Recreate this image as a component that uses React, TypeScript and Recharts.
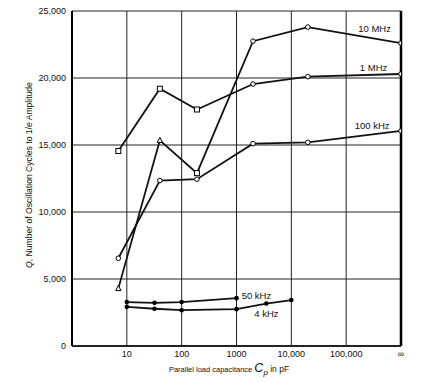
import {
  LineChart,
  Line,
  XAxis,
  YAxis,
  CartesianGrid,
  ReferenceLine,
  ReferenceDot,
} from 'recharts';

// capacitance (pF); the "∞" column is placed at 1e6 on the log axis
const xTicks = [10, 100, 1000, 10000, 100000, 1000000];
const xTickLabels = ['10', '100', '1000', '10,000', '100,000', '∞'];
const yTicks = [0, 5000, 10000, 15000, 20000, 25000];

const cap10MHz = [7, 40, 190, 2000, 20000, 1000000];
const q10MHz = [4300, 15350, 12900, 22750, 23800, 22600];

const cap1MHz = [7, 40, 190, 2000, 20000, 1000000];
const q1MHz = [14550, 19200, 17650, 19550, 20100, 20300];

const cap100kHz = [7, 40, 190, 2000, 20000, 1000000];
const q100kHz = [6550, 12350, 12450, 15100, 15200, 16050];

const cap50kHz = [10, 32, 100, 1000];
const q50kHz = [3280, 3220, 3280, 3570];

const cap4kHz = [10, 32, 100, 1000, 3500, 10000];
const q4kHz = [2920, 2780, 2670, 2750, 3170, 3430];

// marker shapes per point
const marks10MHz = ['tri', 'tri', 'sq', 'o', 'o', 'o'];
const marks1MHz = ['sq', 'sq', 'sq', 'o', 'o', 'o'];
const marks100kHz = ['o', 'o', 'o', 'o', 'o', 'o'];
const marksDot = ['dot', 'dot', 'dot', 'dot', 'dot', 'dot'];

const toRows = (xs: number[], ys: number[]) => xs.map((c, i) => ({ c, q: ys[i] }));

const makeDot = (marks: string[]) => (props: any) => {
  const { cx, cy, index } = props;
  const k = `d-${index}-${cx}`;
  if (cx == null || cy == null) return <g key={k} />;
  const m = marks[index];
  if (m === 'tri')
    return (
      <polygon key={k} points={`${cx},${cy - 3} ${cx + 2.6},${cy + 2.2} ${cx - 2.6},${cy + 2.2}`}
        fill="#fff" stroke="#000" strokeWidth={1} />
    );
  if (m === 'sq')
    return <rect key={k} x={cx - 2.5} y={cy - 2.5} width={5} height={5} fill="#fff" stroke="#000" strokeWidth={1} />;
  if (m === 'dot') return <circle key={k} cx={cx} cy={cy} r={2.3} fill="#000" />;
  return <circle key={k} cx={cx} cy={cy} r={2.3} fill="#fff" stroke="#000" strokeWidth={1} />;
};

const font = 'Liberation Sans, Arial, sans-serif';

const seriesLabels = [
  { text: '10 MHz', x: 330000, y: 23700 },
  { text: '1 MHz', x: 316000, y: 20750 },
  { text: '100 kHz', x: 297000, y: 16430 },
  { text: '50 kHz', x: 2310, y: 3750 },
  { text: '4 kHz', x: 3510, y: 2450 },
];

const YTitle = () => (
  <text transform="translate(32,175) rotate(-90)" textAnchor="middle" fontFamily={font} fontSize={8.6} fill="#111">
    <tspan fontStyle="italic">Q</tspan>, Number of Oscillation Cycles to 1/<tspan fontStyle="italic">e</tspan> Amplitude
  </text>
);

const XTitle = () => (
  <text x={229} y={372} textAnchor="middle" fontFamily={font} fill="#111">
    <tspan fontSize={7.5}>Parallel  load  capacitance </tspan>
    <tspan fontSize={12.5} fontStyle="italic">C</tspan>
    <tspan fontSize={8} fontStyle="italic" dy={3}>p</tspan>
    <tspan fontSize={8.5} dy={-3}> in  pF</tspan>
  </text>
);

export default function App() {
  return (
    <div style={{ position: 'absolute', left: 0, top: 0, background: '#fff' }}>
      <LineChart width={431} height={382} margin={{ top: 11, right: 30, bottom: 16, left: 0 }}>
        <CartesianGrid stroke="#222" strokeWidth={1} />
        <XAxis
          type="number"
          dataKey="c"
          scale="log"
          domain={[1, 1000000]}
          ticks={xTicks}
          allowDataOverflow
          tickFormatter={(v: number) => xTickLabels[xTicks.indexOf(v)] ?? ''}
          tickLine={false}
          tickSize={3}
          axisLine={{ stroke: '#000', strokeWidth: 1.5 }}
          tick={{ fill: '#111', fontSize: 9, fontFamily: font }}
          height={20}
          label={{ content: () => <XTitle /> }}
        />
        <YAxis
          type="number"
          domain={[0, 25000]}
          ticks={yTicks}
          width={72}
          tickLine={false}
          tickSize={4}
          axisLine={{ stroke: '#000', strokeWidth: 2 }}
          tickFormatter={(v: number) => v.toLocaleString('en-US')}
          tick={{ fill: '#111', fontSize: 9, fontFamily: font }}
          label={{ content: () => <YTitle /> }}
        />
        <ReferenceLine x={1000000} stroke="#000" strokeWidth={2.5} />
        <Line data={toRows(cap10MHz, q10MHz)} dataKey="q" type="linear" stroke="#111" strokeWidth={1.8}
          dot={makeDot(marks10MHz)} isAnimationActive={false} />
        <Line data={toRows(cap1MHz, q1MHz)} dataKey="q" type="linear" stroke="#111" strokeWidth={1.8}
          dot={makeDot(marks1MHz)} isAnimationActive={false} />
        <Line data={toRows(cap100kHz, q100kHz)} dataKey="q" type="linear" stroke="#111" strokeWidth={1.8}
          dot={makeDot(marks100kHz)} isAnimationActive={false} />
        <Line data={toRows(cap50kHz, q50kHz)} dataKey="q" type="linear" stroke="#111" strokeWidth={1.8}
          dot={makeDot(marksDot)} isAnimationActive={false} />
        <Line data={toRows(cap4kHz, q4kHz)} dataKey="q" type="linear" stroke="#111" strokeWidth={1.8}
          dot={makeDot(marksDot)} isAnimationActive={false} />
        {seriesLabels.map((l) => (
          <ReferenceDot key={l.text} x={l.x} y={l.y} r={0} ifOverflow="visible"
            label={{ value: l.text, position: 'center', fontSize: 9.5, fontFamily: font, fill: '#111' }} />
        ))}
      </LineChart>
    </div>
  );
}
